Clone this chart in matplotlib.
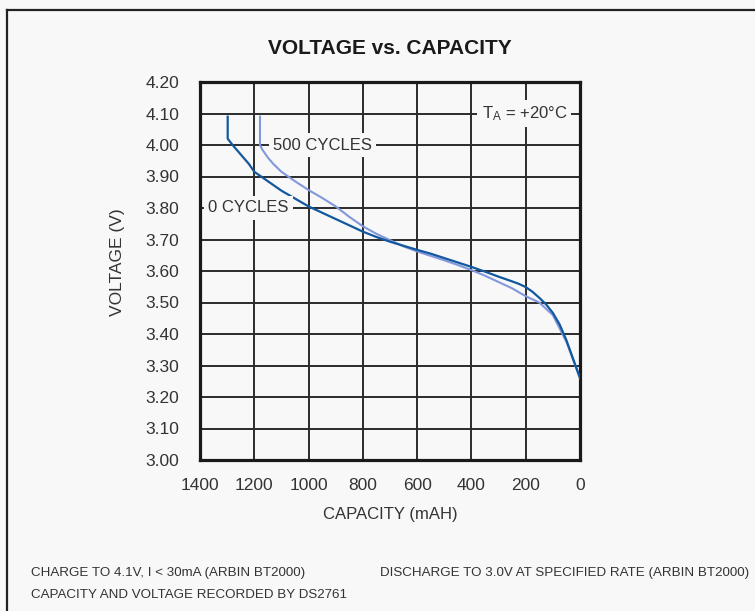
import matplotlib
matplotlib.use('Agg')
import matplotlib.pyplot as plt
from matplotlib.lines import Line2D

# capacity (mAH) and voltage (V)
cap_0 = [1298, 1298, 1280, 1250, 1220, 1200, 1150, 1100, 1050, 1000, 950, 900, 850, 800,
         750, 700, 650, 600, 550, 500, 450, 400, 350, 300, 250, 225, 200, 175, 150, 125,
         100, 75, 50, 25, 0]
volt_0 = [4.09, 4.02, 4.00, 3.97, 3.94, 3.915, 3.885, 3.855, 3.83, 3.805, 3.785, 3.765, 3.745,
          3.725, 3.708, 3.693, 3.68, 3.667, 3.655, 3.641, 3.627, 3.613, 3.598, 3.582, 3.567,
          3.559, 3.549, 3.534, 3.515, 3.494, 3.467, 3.43, 3.38, 3.32, 3.26]

cap_500 = [1179, 1179, 1170, 1150, 1130, 1100, 1050, 1000, 950, 900, 850, 800, 750, 700, 650,
           600, 550, 500, 450, 400, 350, 300, 250, 200, 150, 100, 50, 0]
volt_500 = [4.09, 4.00, 3.985, 3.96, 3.94, 3.915, 3.885, 3.857, 3.832, 3.805, 3.772, 3.742,
            3.718, 3.698, 3.678, 3.662, 3.648, 3.634, 3.619, 3.603, 3.585, 3.565, 3.545, 3.52,
            3.50, 3.46, 3.375, 3.26]

x_ticks = [1400, 1200, 1000, 800, 600, 400, 200, 0]
y_ticks = [3.00, 3.10, 3.20, 3.30, 3.40, 3.50, 3.60, 3.70, 3.80, 3.90, 4.00, 4.10, 4.20]

BG = '#f7f8f7'
TXT = '#333333'

plt.rcParams['font.family'] = ['Liberation Sans', 'DejaVu Sans']
plt.rcParams['mathtext.fontset'] = 'custom'
plt.rcParams['mathtext.rm'] = 'Liberation Sans'
plt.rcParams['mathtext.it'] = 'Liberation Sans'

W, H = 755, 611
fig = plt.figure(figsize=(W / 100, H / 100), dpi=100, facecolor=BG)
ax = fig.add_axes([200 / W, 1 - 460 / H, 380 / W, 378 / H], facecolor=BG)

# outer frame (only top and left edges visible)
fig.add_artist(Line2D([7 / W, 1], [1 - 10 / H, 1 - 10 / H], color='#222222', lw=1.6,
                      transform=fig.transFigure))
fig.add_artist(Line2D([7 / W, 7 / W], [0, 1 - 10 / H], color='#222222', lw=1.6,
                      transform=fig.transFigure))

ax.plot(cap_500, volt_500, color='#8398dc', lw=1.5, zorder=3)
ax.plot(cap_0, volt_0, color='#12589f', lw=1.6, zorder=4)

ax.set_xlim(1400, 0)
ax.set_ylim(3.0, 4.2)
ax.set_xticks(x_ticks)
ax.set_yticks(y_ticks)
ax.set_xticklabels([str(v) for v in x_ticks])
ax.set_yticklabels(['%.2f' % v for v in y_ticks])
ax.tick_params(length=0, labelsize=12.5, labelcolor=TXT)
ax.tick_params(axis='y', pad=15)
ax.tick_params(axis='x', pad=13)
ax.grid(True, color='#2b2b2b', lw=1.4, zorder=1)
ax.set_axisbelow(True)
for s in ax.spines.values():
    s.set_linewidth(2.3)
    s.set_color('#1a1a1a')

box = dict(facecolor=BG, edgecolor='none', pad=3)
ax.text(950, 4.00, '500 CYCLES', ha='center', va='center', fontsize=12, color=TXT,
        bbox=box, zorder=5)
ax.text(1222, 3.80, '0 CYCLES', ha='center', va='center', fontsize=12, color=TXT,
        bbox=box, zorder=5)
ax.text(205, 4.10, r'T$_\mathrm{A}$ = +20°C', ha='center', va='center', fontsize=12,
        color=TXT, bbox=box, zorder=5)

fig.text(390 / W, 1 - 48 / H, 'VOLTAGE vs. CAPACITY', ha='center', va='center',
         fontsize=15, fontweight='bold', color='#1a1a1a')
fig.text(118 / W, 1 - 262 / H, 'VOLTAGE (V)', ha='center', va='center', rotation=90,
         fontsize=12.5, color=TXT)
fig.text(390 / W, 1 - 515 / H, 'CAPACITY (mAH)', ha='center', va='center',
         fontsize=12, color=TXT)

fig.text(31 / W, 1 - 573 / H, 'CHARGE TO 4.1V, I < 30mA (ARBIN BT2000)', ha='left',
         va='center', fontsize=9.6, color=TXT)
fig.text(31 / W, 1 - 595 / H, 'CAPACITY AND VOLTAGE RECORDED BY DS2761', ha='left',
         va='center', fontsize=9.6, color=TXT)
fig.text(380 / W, 1 - 573 / H, 'DISCHARGE TO 3.0V AT SPECIFIED RATE (ARBIN BT2000)',
         ha='left', va='center', fontsize=9.6, color=TXT)

fig.savefig('out.png', dpi=100, facecolor=BG)
